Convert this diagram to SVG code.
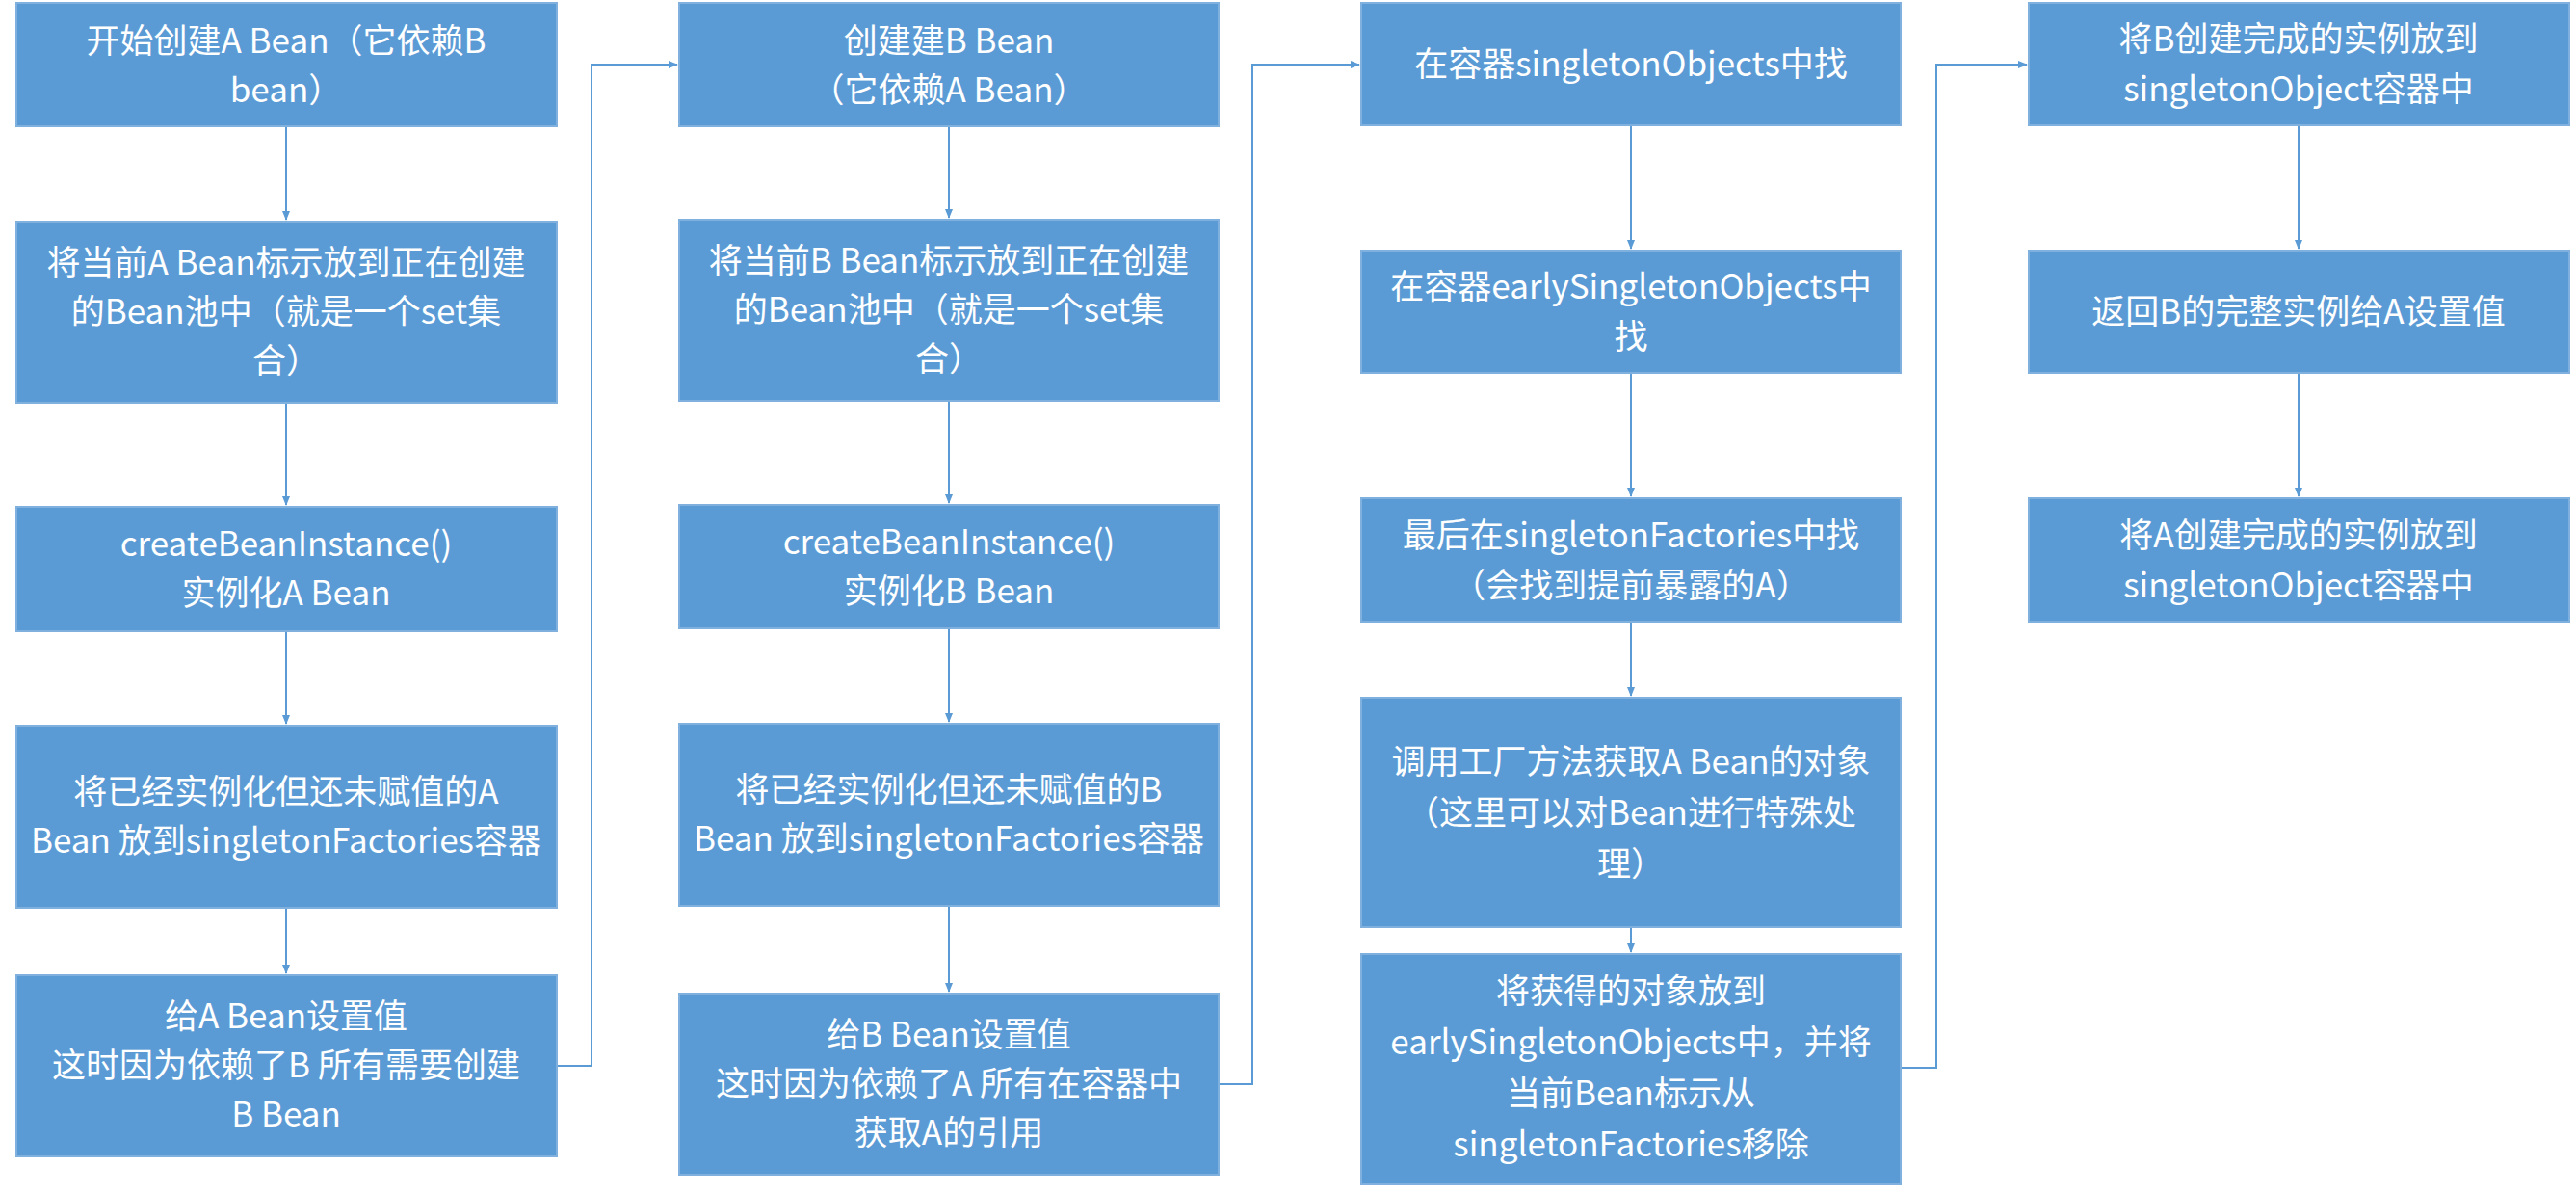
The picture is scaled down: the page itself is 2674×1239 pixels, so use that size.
<svg xmlns="http://www.w3.org/2000/svg" width="2674" height="1239" viewBox="0 0 2674 1239">
<defs>
<marker id="ar" markerWidth="10" markerHeight="10" refX="9" refY="5" orient="auto" markerUnits="userSpaceOnUse"><path d="M0,1 L10,5 L0,9 z" fill="#5B9BD5"/></marker>
</defs>
<style>
.b{fill:#5B9BD5;stroke:#7FB0DE;stroke-width:2}
.t{font-family:"Noto Sans CJK SC","Liberation Sans",sans-serif;font-size:35px;fill:#fff;text-anchor:middle}
.c{fill:none;stroke:#5B9BD5;stroke-width:2;marker-end:url(#ar)}
</style>
<rect width="2674" height="1239" fill="#fff"/>
<g id="connectors">
<path class="c" d="M297,131 V228"/>
<path class="c" d="M297,418 V524"/>
<path class="c" d="M297,655 V751"/>
<path class="c" d="M297,942 V1010"/>
<path class="c" d="M578,1106 H614 V67 H703"/>
<path class="c" d="M985,131 V226"/>
<path class="c" d="M985,416 V522"/>
<path class="c" d="M985,652 V749"/>
<path class="c" d="M985,940 V1029"/>
<path class="c" d="M1265,1125 H1300 V67 H1411"/>
<path class="c" d="M1693,130 V258"/>
<path class="c" d="M1693,387 V515"/>
<path class="c" d="M1693,645 V722"/>
<path class="c" d="M1693,962 V988"/>
<path class="c" d="M1973,1108 H2010 V67 H2104"/>
<path class="c" d="M2386,130 V258"/>
<path class="c" d="M2386,387 V515"/>
</g>
<g id="a1"><rect class="b" x="17" y="3" width="561" height="128"/><text class="t" x="297" y="55">开始创建A Bean（它依赖B<tspan x="297" dy="51">bean）</tspan></text></g>
<g id="a2"><rect class="b" x="17" y="230" width="561" height="188"/><text class="t" x="297" y="285">将当前A Bean标示放到正在创建<tspan x="297" dy="51">的Bean池中（就是一个set集</tspan><tspan x="297" dy="51">合）</tspan></text></g>
<g id="a3"><rect class="b" x="17" y="526" width="561" height="129"/><text class="t" x="297" y="577">createBeanInstance()<tspan x="297" dy="51">实例化A Bean</tspan></text></g>
<g id="a4"><rect class="b" x="17" y="753" width="561" height="189"/><text class="t" x="297" y="834">将已经实例化但还未赋值的A<tspan x="297" dy="51">Bean 放到singletonFactories容器</tspan></text></g>
<g id="a5"><rect class="b" x="17" y="1012" width="561" height="188"/><text class="t" x="297" y="1067">给A Bean设置值<tspan x="297" dy="51">这时因为依赖了B 所有需要创建</tspan><tspan x="297" dy="51">B Bean</tspan></text></g>
<g id="b1"><rect class="b" x="705" y="3" width="560" height="128"/><text class="t" x="985" y="55">创建建B Bean<tspan x="985" dy="51">（它依赖A Bean）</tspan></text></g>
<g id="b2"><rect class="b" x="705" y="228" width="560" height="188"/><text class="t" x="985" y="283">将当前B Bean标示放到正在创建<tspan x="985" dy="51">的Bean池中（就是一个set集</tspan><tspan x="985" dy="51">合）</tspan></text></g>
<g id="b3"><rect class="b" x="705" y="524" width="560" height="128"/><text class="t" x="985" y="575">createBeanInstance()<tspan x="985" dy="51">实例化B Bean</tspan></text></g>
<g id="b4"><rect class="b" x="705" y="751" width="560" height="189"/><text class="t" x="985" y="832">将已经实例化但还未赋值的B<tspan x="985" dy="51">Bean 放到singletonFactories容器</tspan></text></g>
<g id="b5"><rect class="b" x="705" y="1031" width="560" height="188"/><text class="t" x="985" y="1086">给B Bean设置值<tspan x="985" dy="51">这时因为依赖了A 所有在容器中</tspan><tspan x="985" dy="51">获取A的引用</tspan></text></g>
<g id="c1"><rect class="b" x="1413" y="3" width="560" height="127"/><text class="t" x="1693" y="79">在容器singletonObjects中找</text></g>
<g id="c2"><rect class="b" x="1413" y="260" width="560" height="127"/><text class="t" x="1693" y="310">在容器earlySingletonObjects中<tspan x="1693" dy="52">找</tspan></text></g>
<g id="c3"><rect class="b" x="1413" y="517" width="560" height="128"/><text class="t" x="1693" y="568">最后在singletonFactories中找<tspan x="1693" dy="52">（会找到提前暴露的A）</tspan></text></g>
<g id="c4"><rect class="b" x="1413" y="724" width="560" height="238"/><text class="t" x="1693" y="803">调用工厂方法获取A Bean的对象<tspan x="1693" dy="53">（这里可以对Bean进行特殊处</tspan><tspan x="1693" dy="53">理）</tspan></text></g>
<g id="c5"><rect class="b" x="1413" y="990" width="560" height="239"/><text class="t" x="1693" y="1041">将获得的对象放到<tspan x="1693" dy="53">earlySingletonObjects中，并将</tspan><tspan x="1693" dy="53">当前Bean标示从</tspan><tspan x="1693" dy="53">singletonFactories移除</tspan></text></g>
<g id="d1"><rect class="b" x="2106" y="3" width="561" height="127"/><text class="t" x="2386" y="53">将B创建完成的实例放到<tspan x="2386" dy="52">singletonObject容器中</tspan></text></g>
<g id="d2"><rect class="b" x="2106" y="260" width="561" height="127"/><text class="t" x="2386" y="336">返回B的完整实例给A设置值</text></g>
<g id="d3"><rect class="b" x="2106" y="517" width="561" height="128"/><text class="t" x="2386" y="568">将A创建完成的实例放到<tspan x="2386" dy="52">singletonObject容器中</tspan></text></g>
</svg>
